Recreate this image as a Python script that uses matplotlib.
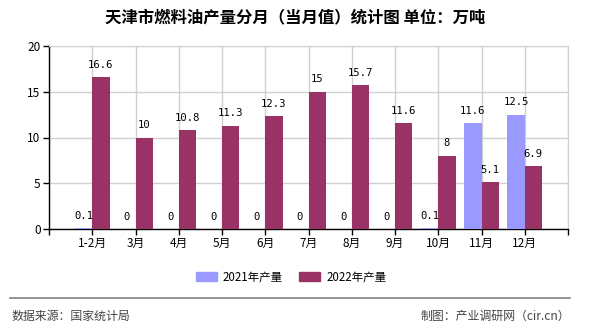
import matplotlib
matplotlib.use("Agg")
import matplotlib.pyplot as plt
from matplotlib.patches import Patch

plt.rcParams['font.family'] = ['Noto Sans CJK SC', 'DejaVu Sans']

categories = ["1-2月", "3月", "4月", "5月", "6月", "7月", "8月", "9月", "10月", "11月", "12月"]
v2021 = [0.1, 0, 0, 0, 0, 0, 0, 0, 0.1, 11.6, 12.5]
v2022 = [16.6, 10, 10.8, 11.3, 12.3, 15, 15.7, 11.6, 8, 5.1, 6.9]
series_names = ["2021年产量", "2022年产量"]
title = "天津市燃料油产量分月（当月值）统计图 单位：万吨"

c1 = "#9999FF"
c2 = "#993366"

fig = plt.figure(figsize=(5.9, 3.3), dpi=100)
W, H = 590, 330
ax = fig.add_axes([49 / W, 1 - 229 / H, (568 - 49) / W, (229 - 46) / H])

pos = list(range(1, len(categories) + 1))
w = 0.4
b1 = ax.bar([p - w / 2 for p in pos], v2021, width=w, color=c1, zorder=3)
b2 = ax.bar([p + w / 2 for p in pos], v2022, width=w, color=c2, zorder=3)

def fmt(v):
    return ("%g" % v)

for bars, vals in ((b1, v2021), (b2, v2022)):
    for r, v in zip(bars, vals):
        ax.text(r.get_x() + r.get_width() / 2, v + 0.8, fmt(v), ha="center", va="bottom",
                fontsize=7.6, family=["DejaVu Sans Mono"], color="#000000", zorder=4)

ax.set_xlim(0, 12)
ax.set_ylim(0, 20)
ax.set_xticks(range(0, 13))
ax.set_xticklabels([""] + categories + [""], fontsize=8.5)
ax.set_yticks([0, 5, 10, 15, 20])
ax.tick_params(axis="both", labelsize=8.5, length=4, width=1, color="black", pad=2)
ax.grid(True, color="#d0d0d0", linewidth=1, zorder=0)
for s in ("top", "right"):
    ax.spines[s].set_color("#d0d0d0")
for s in ("left", "bottom"):
    ax.spines[s].set_color("black")
    ax.spines[s].set_linewidth(1)

fig.text(295 / W, 1 - 17 / H, title, ha="center", va="center", fontsize=11.8, fontweight="bold")

handles = [Patch(color=c1, label=series_names[0]), Patch(color=c2, label=series_names[1])]
fig.legend(handles=handles, loc="center", bbox_to_anchor=(291 / W, 1 - 277 / H), ncol=2,
           frameon=False, fontsize=8.3, handlelength=1.85, handleheight=0.7, columnspacing=1.4,
           handletextpad=0.5, borderaxespad=0, borderpad=0)

fig.add_artist(plt.Line2D([10 / W, 570 / W], [1 - 298 / H, 1 - 298 / H], color="#808080", linewidth=1.2))
fig.text(12 / W, 1 - 316 / H, "数据来源：国家统计局", ha="left", va="center", fontsize=8.6, color="#444444")
fig.text(570 / W, 1 - 316 / H, "制图：产业调研网（cir.cn）", ha="right", va="center", fontsize=8.6, color="#444444")

fig.savefig("out.png", dpi=100)
